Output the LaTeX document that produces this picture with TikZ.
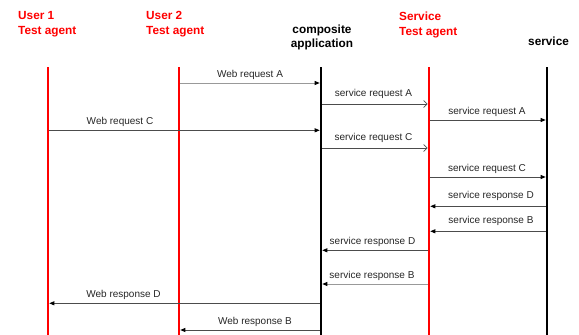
\documentclass[tikz,border=0pt]{standalone}
\usepackage{fontspec}
\setmainfont{Liberation Sans}
\usetikzlibrary{arrows.meta}
\begin{document}
\begin{tikzpicture}[x=1pt,y=-1pt,
  hdr/.style={anchor=base west, inner sep=0pt, font=\bfseries\fontsize{11.8}{14}\selectfont},
  hdrc/.style={hdr, anchor=base},
  lbl/.style={anchor=base, inner sep=0pt, font=\fontsize{10}{12}\selectfont, text=black!85},
  lifered/.style={draw=red, line width=2.6pt},
  lifeblack/.style={draw=black, line width=2.6pt},
  msg/.style={draw=black!70, line width=0.8pt, shorten >=1.3pt, shorten <=1.3pt,
    -{Triangle[length=5pt,width=4pt,color=black]}},
  msgopen/.style={draw=black!70, line width=0.8pt, shorten >=1.3pt, shorten <=1.3pt,
    -{Straight Barb[length=3.5pt,width=7pt,color=black!70,line width=0.7pt]}},
  light/.style={draw=black!40}
]
\useasboundingbox (0,0) rectangle (579,335);

% headers
\node[hdr, text=red] (h1a) at (18,19.3) {User 1};
\node[hdr, text=red] (h1b) at (18,34) {Test agent};
\node[hdr, text=red] (h2a) at (146,19.5) {User 2};
\node[hdr, text=red] (h2b) at (146,34) {Test agent};
\node[hdrc] (h3a) at (322,33) {composite};
\node[hdrc] (h3b) at (322,47.5) {application};
\node[hdr, text=red] (h4a) at (399,20.7) {Service};
\node[hdr, text=red] (h4b) at (399,35.5) {Test agent};
\node[hdr] (h5) at (528,45.7) {service};

% lifelines
\coordinate (L1) at (48,67);
\coordinate (L2) at (179,67);
\coordinate (L3) at (321,67);
\coordinate (L4) at (429,67);
\coordinate (L5) at (547,67);
\coordinate (B1) at (48,340);
\coordinate (B2) at (179,340);
\coordinate (B3) at (321,340);
\coordinate (B4) at (429,340);
\coordinate (B5) at (547,340);
\draw[lifered] (L1) -- (B1);
\draw[lifered] (L2) -- (B2);
\draw[lifeblack] (L3) -- (B3);
\draw[lifered] (L4) -- (B4);
\draw[lifeblack] (L5) -- (B5);

% messages
\draw[msg, light] (L2 |- 0,83) -- (L3 |- 0,83);
\node[lbl] (m1) at (250,77.3) {Web request A};

\draw[msgopen] (L3 |- 0,104) -- (L4 |- 0,104);
\node[lbl] (m2) at (373.5,96) {service request A};

\draw[msg] (L4 |- 0,120) -- (L5 |- 0,120);
\node[lbl] (m3) at (487,114) {service request A};

\draw[msg] (L1 |- 0,130.3) -- (L3 |- 0,130.3);
\node[lbl] (m4) at (120,124.5) {Web request C};

\draw[msgopen] (L3 |- 0,148) -- (L4 |- 0,148);
\node[lbl] (m5) at (373.5,140) {service request C};

\draw[msg] (L4 |- 0,177) -- (L5 |- 0,177);
\node[lbl] (m6) at (487,171) {service request C};

\draw[msg] (L5 |- 0,206.3) -- (L4 |- 0,206.3);
\node[lbl] (m7) at (491,198.3) {service response D};

\draw[msg] (L5 |- 0,231.3) -- (L4 |- 0,231.3);
\node[lbl] (m8) at (491,223.3) {service response B};

\draw[msg] (L4 |- 0,250.3) -- (L3 |- 0,250.3);
\node[lbl] (m9) at (372.5,244.3) {service response D};

\draw[msg, light] (L4 |- 0,284) -- (L3 |- 0,284);
\node[lbl] (m10) at (372,278.7) {service response B};

\draw[msg] (L3 |- 0,303.3) -- (L1 |- 0,303.3);
\node[lbl] (m11) at (123.5,297.7) {Web response D};

\draw[msg] (L3 |- 0,330) -- (L2 |- 0,330);
\node[lbl] (m12) at (255,324) {Web response B};
\end{tikzpicture}
\end{document}
